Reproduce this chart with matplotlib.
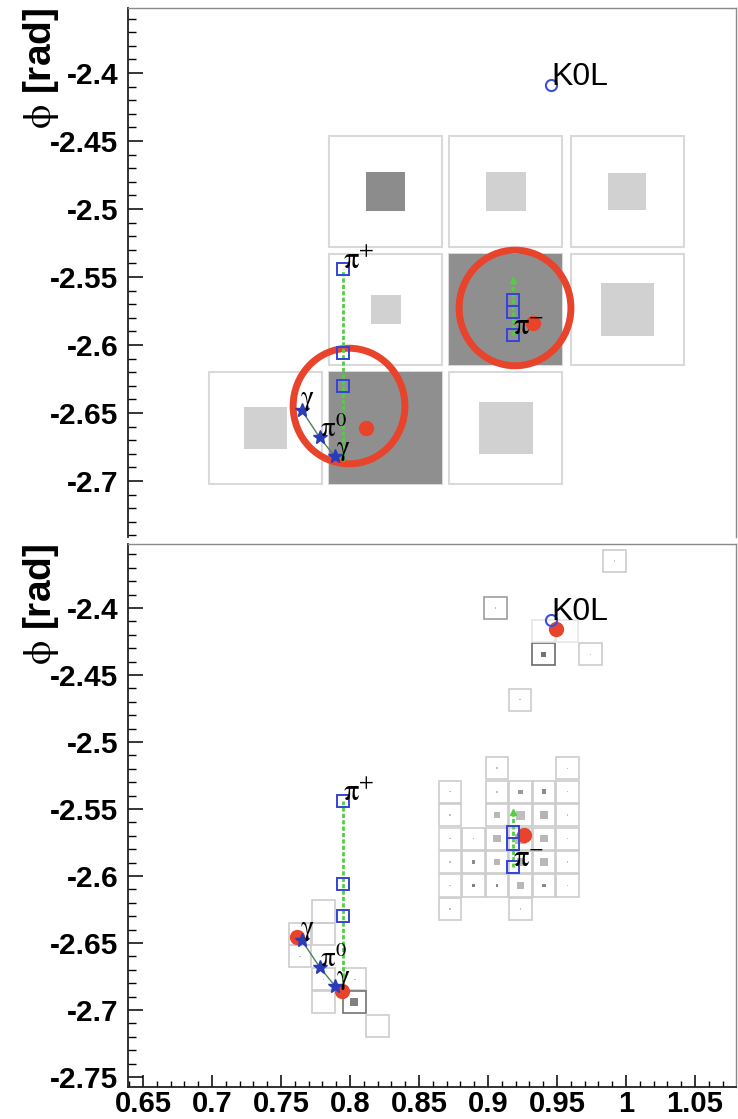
"""Event display: HCAL towers (top) and ECAL crystals (bottom) in eta-phi."""
import matplotlib
matplotlib.use("Agg")  # headless
import matplotlib.pyplot as plt
from matplotlib.patches import Rectangle, Ellipse
from matplotlib.ticker import MultipleLocator, FuncFormatter

plt.rcParams["font.family"] = ["Liberation Sans", "DejaVu Sans"]
plt.rcParams["mathtext.fontset"] = "stix"
plt.rcParams["axes.unicode_minus"] = False

# HCAL towers (top panel): centre, box fraction of the tower, grey level
hcal_eta = [0.826, 0.913, 1.001, 0.826, 0.913, 1.001, 0.739, 0.826, 0.913]
hcal_phi = [-2.487, -2.487, -2.487, -2.574, -2.574, -2.574, -2.661, -2.661, -2.661]
hcal_frac = [0.345, 0.354, 0.336, 0.265, 1.0, 0.47, 0.38, 1.0, 0.47]
hcal_grey = [0.55, 0.82, 0.82, 0.82, 0.56, 0.82, 0.82, 0.56, 0.82]

# ECAL crystals (bottom panel)
ecal_eta = [0.9066, 0.9576,
            0.8725, 0.9066, 0.9236, 0.9406, 0.9576,
            0.8725, 0.9066, 0.9236, 0.9406, 0.9576,
            0.8725, 0.8895, 0.9066, 0.9236, 0.9406, 0.9576,
            0.8725, 0.8895, 0.9066, 0.9236, 0.9406, 0.9576,
            0.8725, 0.8895, 0.9066, 0.9236, 0.9406, 0.9576,
            0.8725, 0.9236,
            0.9232, 0.9054, 0.9917, 0.9402, 0.9743, 0.9402, 0.9572,
            0.7808, 0.7638, 0.7808, 0.7638, 0.7808, 0.8036, 0.7808, 0.8032, 0.8199]
ecal_phi = [-2.5196, -2.5196,
            -2.5371, -2.5371, -2.5371, -2.5371, -2.5371,
            -2.5546, -2.5546, -2.5546, -2.5546, -2.5546,
            -2.5721, -2.5721, -2.5721, -2.5721, -2.5721, -2.5721,
            -2.5896, -2.5896, -2.5896, -2.5896, -2.5896, -2.5896,
            -2.6071, -2.6071, -2.6071, -2.6071, -2.6071, -2.6071,
            -2.6246, -2.6246,
            -2.4684, -2.4000, -2.3650, -2.4346, -2.4346, -2.4171, -2.4171,
            -2.6265, -2.6432, -2.6432, -2.6600, -2.6772, -2.6772, -2.6942, -2.6942, -2.7117]
ecal_frac = [0.08, 0.06,
             0.06, 0.08, 0.18, 0.20, 0.06,
             0.06, 0.28, 0.40, 0.35, 0.06,
             0.05, 0.08, 0.35, 0.45, 0.35, 0.06,
             0.06, 0.14, 0.30, 0.35, 0.35, 0.06,
             0.06, 0.14, 0.12, 0.32, 0.14, 0.06,
             0.06, 0.06,
             0.06, 0.06, 0.06, 0.22, 0.06, 0.0, 0.0,
             0.0, 0.0, 0.0, 0.06, 0.06, 0.06, 0.0, 0.35, 0.0]
ecal_grey = [0.75, 0.75,
             0.75, 0.75, 0.60, 0.55, 0.75,
             0.75, 0.72, 0.75, 0.70, 0.75,
             0.75, 0.70, 0.72, 0.72, 0.72, 0.75,
             0.75, 0.55, 0.72, 0.72, 0.72, 0.75,
             0.75, 0.50, 0.55, 0.72, 0.55, 0.75,
             0.75, 0.75,
             0.75, 0.75, 0.75, 0.45, 0.75, 0.75, 0.75,
             0.75, 0.75, 0.75, 0.75, 0.75, 0.75, 0.75, 0.50, 0.75]
ecal_edge = [0.80, 0.80,
             0.80, 0.80, 0.80, 0.80, 0.80,
             0.80, 0.80, 0.80, 0.80, 0.80,
             0.82, 0.80, 0.80, 0.80, 0.80, 0.80,
             0.82, 0.80, 0.80, 0.80, 0.80, 0.80,
             0.82, 0.80, 0.80, 0.80, 0.80, 0.80,
             0.80, 0.80,
             0.80, 0.62, 0.80, 0.42, 0.80, 0.90, 0.90,
             0.80, 0.80, 0.80, 0.80, 0.80, 0.80, 0.80, 0.45, 0.80]

# generated particles (same in both panels)
pip_eta, pip_phi = 0.795, [-2.544, -2.606, -2.630]
pip_track = [-2.685, -2.544]
pim_eta, pim_phi = 0.918, [-2.567, -2.576, -2.593]
pim_track = [-2.552, -2.593]
gam_eta = [0.765, 0.778, 0.789]          # gamma, pi0, gamma
gam_phi = [-2.648, -2.668, -2.682]
k0l_eta, k0l_phi = 0.946, -2.409

# reconstructed clusters
top_clu_eta, top_clu_phi = [0.8116, 0.9326], [-2.661, -2.5838]
bot_clu_eta = [0.9493, 0.9261, 0.7616, 0.7942]
bot_clu_phi = [-2.4156, -2.5694, -2.6452, -2.686]
# red rings around the top-panel clusters
ring_eta, ring_phi = [0.7993, 0.9196], [-2.6449, -2.5728]

RED = "#e8432b"
BLUE = "#3344d6"
GREEN = "#55cc44"


def draw_cells(ax, eta, phi, frac, grey, edge, size, lw):
    for x, y, f, g, e in zip(eta, phi, frac, grey, edge):
        ax.add_patch(Rectangle((x - size / 2, y - size / 2), size, size,
                               facecolor="none", edgecolor=str(e), lw=lw, zorder=1))
        if f > 0:
            s = size * f
            ax.add_patch(Rectangle((x - s / 2, y - s / 2), s, s,
                                   facecolor=str(g), edgecolor="none", zorder=1.5))


def draw_particles(ax):
    ax.plot([pip_eta] * 2, pip_track, color=GREEN, lw=2, ls=(0, (1.5, 0.8)), zorder=3)
    ax.plot([pim_eta] * 2, pim_track, color=GREEN, lw=2, ls=(0, (1.5, 0.8)), zorder=3)
    ax.plot(pim_eta, pim_track[0], marker="^", ms=4, color=GREEN, zorder=3)
    ax.plot([pip_eta] * 3, pip_phi, ls="none", marker="s", ms=8, mfc="none",
            mec=BLUE, mew=1.4, zorder=4)
    ax.plot([pim_eta] * 3, pim_phi, ls="none", marker="s", ms=8, mfc="none",
            mec=BLUE, mew=1.4, zorder=4)
    ax.plot(gam_eta, gam_phi, color="#4f7f5f", lw=1.0, zorder=3)
    ax.plot(gam_eta, gam_phi, ls="none", marker="*", ms=10, color="#2a3cb8", zorder=4)
    ax.plot(k0l_eta, k0l_phi, marker="o", ms=8, mfc="none", mec="#3d4fd8", mew=1.5, zorder=4)

    ax.annotate("K0L", (k0l_eta, k0l_phi), fontsize=23, ha="left", va="baseline", zorder=6)
    ax.annotate(r"$\mathrm{\pi}^{+}$", (pip_eta, pip_phi[0]), fontsize=22,
                ha="left", va="baseline", zorder=6)
    ax.annotate(r"$\mathrm{\pi}^{-}$", (pim_eta, pim_phi[-1]), fontsize=22,
                ha="left", va="baseline", zorder=6)
    ax.annotate(r"$\mathrm{\pi}^{0}$", (gam_eta[1], gam_phi[1]), fontsize=21,
                ha="left", va="baseline", zorder=6)
    ax.annotate(r"$\mathrm{\gamma}$", (gam_eta[0], gam_phi[0]), xytext=(-1, 4),
                textcoords="offset points", fontsize=20, ha="left", va="baseline", zorder=6)
    ax.annotate(r"$\mathrm{\gamma}$", (gam_eta[2], gam_phi[2]), xytext=(1, 1),
                textcoords="offset points", fontsize=20, ha="left", va="baseline", zorder=6)


def style_axes(ax, ylo, show_x):
    ax.set_xlim(0.6391, 1.0797)
    ax.set_ylim(ylo, -2.3522)
    fmt = FuncFormatter(lambda v, p: f"{round(v, 3):g}")
    ax.yaxis.set_major_locator(MultipleLocator(0.05))
    ax.yaxis.set_minor_locator(MultipleLocator(0.01))
    ax.yaxis.set_major_formatter(fmt)
    ax.xaxis.set_major_locator(MultipleLocator(0.05))
    ax.xaxis.set_minor_locator(MultipleLocator(0.01))
    ax.xaxis.set_major_formatter(fmt)
    ax.tick_params(axis="y", which="major", direction="in", length=11, width=1.1,
                   labelsize=21.5, pad=7, right=False)
    ax.tick_params(axis="y", which="minor", direction="in", length=5.5, width=1.0, right=False)
    ax.tick_params(axis="x", which="major", direction="in", length=8.5, width=1.1,
                   labelsize=21, pad=2, top=False, bottom=show_x, labelbottom=show_x)
    ax.tick_params(axis="x", which="minor", direction="in", length=4.5, width=1.0,
                   top=False, bottom=show_x)
    for lab in ax.get_xticklabels() + ax.get_yticklabels():
        lab.set_fontweight("bold")
    ax.spines["left"].set_color("#222222")
    ax.spines["left"].set_linewidth(1.3)
    ax.spines["bottom"].set_color("#222222")
    ax.spines["bottom"].set_linewidth(1.3)
    ax.spines["bottom"].set_visible(show_x)
    for side in ("top", "right"):
        ax.spines[side].set_color("#8a8a8a")
        ax.spines[side].set_linewidth(1.0)
    ax.text(-0.143, 1.0, r"$\mathrm{\phi}$ [rad]", transform=ax.transAxes, rotation=90,
            ha="center", va="top", fontsize=28, fontweight="bold")


fig = plt.figure(figsize=(7.38, 11.19), dpi=100)
ax_top = fig.add_axes([0.1734, 0.5201, 0.8238, 0.4728])
ax_bot = fig.add_axes([0.1734, 0.0286, 0.8238, 0.4853])

# top: HCAL
edges = [0.85] * len(hcal_eta)
draw_cells(ax_top, hcal_eta, hcal_phi, hcal_frac, hcal_grey, edges, 0.082, 1.5)
for x, y in zip(ring_eta, ring_phi):
    ax_top.add_patch(Ellipse((x, y), 0.081, 0.085, facecolor="none",
                             edgecolor=RED, lw=5, zorder=2))
draw_particles(ax_top)
ax_top.plot(top_clu_eta, top_clu_phi, ls="none", marker="o", ms=10, color=RED, zorder=5)
style_axes(ax_top, -2.7412, False)

# bottom: ECAL
draw_cells(ax_bot, ecal_eta, ecal_phi, ecal_frac, ecal_grey, ecal_edge, 0.0165, 1.2)
ax_bot.plot(bot_clu_eta, bot_clu_phi, ls="none", marker="o", ms=10, color=RED, zorder=3.5)
draw_particles(ax_bot)
style_axes(ax_bot, -2.7575, True)

fig.savefig("out.png", dpi=100)
plt.close(fig)
